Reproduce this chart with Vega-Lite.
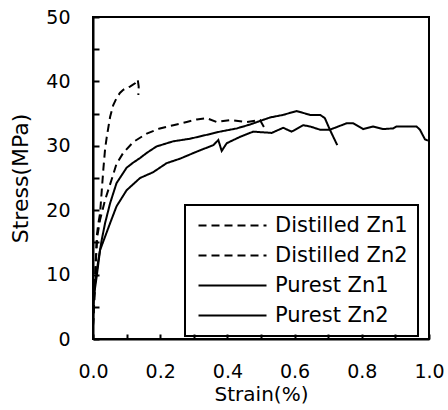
{
  "$schema": "https://vega.github.io/schema/vega-lite/v6.json",
  "width": 336,
  "height": 322,
  "autosize": {"type": "none"},
  "padding": {"left": 93, "top": 17, "right": 19, "bottom": 71},
  "background": "white",
  "config": {
    "view": {"stroke": "black", "strokeWidth": 2},
    "font": "DejaVu Sans",
    "legend": {"strokeWidth": 2}
  },
  "data": {
    "values": [
      {"series": "Distilled Zn1", "i": 0, "strain": 0, "stress": 2},
      {"series": "Distilled Zn1", "i": 1, "strain": 0.004, "stress": 6},
      {"series": "Distilled Zn1", "i": 2, "strain": 0.008, "stress": 11},
      {"series": "Distilled Zn1", "i": 3, "strain": 0.011, "stress": 15.9},
      {"series": "Distilled Zn1", "i": 4, "strain": 0.016, "stress": 18},
      {"series": "Distilled Zn1", "i": 5, "strain": 0.021, "stress": 19.5},
      {"series": "Distilled Zn1", "i": 6, "strain": 0.026, "stress": 23},
      {"series": "Distilled Zn1", "i": 7, "strain": 0.031, "stress": 26.5},
      {"series": "Distilled Zn1", "i": 8, "strain": 0.036, "stress": 29.5},
      {"series": "Distilled Zn1", "i": 9, "strain": 0.041, "stress": 31.4},
      {"series": "Distilled Zn1", "i": 10, "strain": 0.051, "stress": 34.5},
      {"series": "Distilled Zn1", "i": 11, "strain": 0.06, "stress": 36.3},
      {"series": "Distilled Zn1", "i": 12, "strain": 0.07, "stress": 37.4},
      {"series": "Distilled Zn1", "i": 13, "strain": 0.08, "stress": 38.2},
      {"series": "Distilled Zn1", "i": 14, "strain": 0.09, "stress": 38.7},
      {"series": "Distilled Zn1", "i": 15, "strain": 0.11, "stress": 39.2},
      {"series": "Distilled Zn1", "i": 16, "strain": 0.125, "stress": 39.7},
      {"series": "Distilled Zn1", "i": 17, "strain": 0.133, "stress": 40.3},
      {"series": "Distilled Zn1", "i": 18, "strain": 0.136, "stress": 39.2},
      {"series": "Distilled Zn1", "i": 19, "strain": 0.135, "stress": 37.9},

      {"series": "Distilled Zn2", "i": 0, "strain": 0, "stress": 2},
      {"series": "Distilled Zn2", "i": 1, "strain": 0.004, "stress": 7},
      {"series": "Distilled Zn2", "i": 2, "strain": 0.008, "stress": 12},
      {"series": "Distilled Zn2", "i": 3, "strain": 0.013, "stress": 16},
      {"series": "Distilled Zn2", "i": 4, "strain": 0.021, "stress": 18.5},
      {"series": "Distilled Zn2", "i": 5, "strain": 0.036, "stress": 21.6},
      {"series": "Distilled Zn2", "i": 6, "strain": 0.055, "stress": 24.7},
      {"series": "Distilled Zn2", "i": 7, "strain": 0.07, "stress": 27.2},
      {"series": "Distilled Zn2", "i": 8, "strain": 0.09, "stress": 28.9},
      {"series": "Distilled Zn2", "i": 9, "strain": 0.12, "stress": 30.6},
      {"series": "Distilled Zn2", "i": 10, "strain": 0.16, "stress": 31.9},
      {"series": "Distilled Zn2", "i": 11, "strain": 0.199, "stress": 32.7},
      {"series": "Distilled Zn2", "i": 12, "strain": 0.239, "stress": 33.2},
      {"series": "Distilled Zn2", "i": 13, "strain": 0.279, "stress": 33.7},
      {"series": "Distilled Zn2", "i": 14, "strain": 0.309, "stress": 34.1},
      {"series": "Distilled Zn2", "i": 15, "strain": 0.338, "stress": 34.3},
      {"series": "Distilled Zn2", "i": 16, "strain": 0.368, "stress": 33.7},
      {"series": "Distilled Zn2", "i": 17, "strain": 0.408, "stress": 34.0},
      {"series": "Distilled Zn2", "i": 18, "strain": 0.457, "stress": 33.7},
      {"series": "Distilled Zn2", "i": 19, "strain": 0.497, "stress": 34.0},
      {"series": "Distilled Zn2", "i": 20, "strain": 0.51, "stress": 32.8},

      {"series": "Purest Zn1", "i": 0, "strain": 0, "stress": 2},
      {"series": "Purest Zn1", "i": 1, "strain": 0.001, "stress": 5},
      {"series": "Purest Zn1", "i": 2, "strain": 0.006, "stress": 8.6},
      {"series": "Purest Zn1", "i": 3, "strain": 0.016, "stress": 12.3},
      {"series": "Purest Zn1", "i": 4, "strain": 0.026, "stress": 15.4},
      {"series": "Purest Zn1", "i": 5, "strain": 0.036, "stress": 18},
      {"series": "Purest Zn1", "i": 6, "strain": 0.051, "stress": 21.1},
      {"series": "Purest Zn1", "i": 7, "strain": 0.07, "stress": 24.2},
      {"series": "Purest Zn1", "i": 8, "strain": 0.1, "stress": 26.6},
      {"series": "Purest Zn1", "i": 9, "strain": 0.12, "stress": 27.4},
      {"series": "Purest Zn1", "i": 10, "strain": 0.14, "stress": 28.1},
      {"series": "Purest Zn1", "i": 11, "strain": 0.16, "stress": 28.9},
      {"series": "Purest Zn1", "i": 12, "strain": 0.189, "stress": 29.9},
      {"series": "Purest Zn1", "i": 13, "strain": 0.239, "stress": 30.7},
      {"series": "Purest Zn1", "i": 14, "strain": 0.289, "stress": 31.1},
      {"series": "Purest Zn1", "i": 15, "strain": 0.338, "stress": 31.7},
      {"series": "Purest Zn1", "i": 16, "strain": 0.378, "stress": 32.2},
      {"series": "Purest Zn1", "i": 17, "strain": 0.428, "stress": 32.7},
      {"series": "Purest Zn1", "i": 18, "strain": 0.467, "stress": 33.3},
      {"series": "Purest Zn1", "i": 19, "strain": 0.527, "stress": 34.4},
      {"series": "Purest Zn1", "i": 20, "strain": 0.566, "stress": 34.8},
      {"series": "Purest Zn1", "i": 21, "strain": 0.606, "stress": 35.4},
      {"series": "Purest Zn1", "i": 22, "strain": 0.626, "stress": 35.1},
      {"series": "Purest Zn1", "i": 23, "strain": 0.646, "stress": 34.8},
      {"series": "Purest Zn1", "i": 24, "strain": 0.676, "stress": 34.8},
      {"series": "Purest Zn1", "i": 25, "strain": 0.69, "stress": 34.3},
      {"series": "Purest Zn1", "i": 26, "strain": 0.705, "stress": 32.5},
      {"series": "Purest Zn1", "i": 27, "strain": 0.727, "stress": 30.1},

      {"series": "Purest Zn2", "i": 0, "strain": 0, "stress": 2},
      {"series": "Purest Zn2", "i": 1, "strain": 0.001, "stress": 6.1},
      {"series": "Purest Zn2", "i": 2, "strain": 0.011, "stress": 9.7},
      {"series": "Purest Zn2", "i": 3, "strain": 0.021, "stress": 13.8},
      {"series": "Purest Zn2", "i": 4, "strain": 0.036, "stress": 15.9},
      {"series": "Purest Zn2", "i": 5, "strain": 0.051, "stress": 18},
      {"series": "Purest Zn2", "i": 6, "strain": 0.07, "stress": 20.6},
      {"series": "Purest Zn2", "i": 7, "strain": 0.1, "stress": 23.1},
      {"series": "Purest Zn2", "i": 8, "strain": 0.14, "stress": 25.0},
      {"series": "Purest Zn2", "i": 9, "strain": 0.179, "stress": 25.9},
      {"series": "Purest Zn2", "i": 10, "strain": 0.199, "stress": 26.6},
      {"series": "Purest Zn2", "i": 11, "strain": 0.219, "stress": 27.3},
      {"series": "Purest Zn2", "i": 12, "strain": 0.259, "stress": 28.0},
      {"series": "Purest Zn2", "i": 13, "strain": 0.309, "stress": 29.1},
      {"series": "Purest Zn2", "i": 14, "strain": 0.358, "stress": 30.1},
      {"series": "Purest Zn2", "i": 15, "strain": 0.373, "stress": 30.9},
      {"series": "Purest Zn2", "i": 16, "strain": 0.383, "stress": 29.2},
      {"series": "Purest Zn2", "i": 17, "strain": 0.398, "stress": 30.4},
      {"series": "Purest Zn2", "i": 18, "strain": 0.438, "stress": 31.4},
      {"series": "Purest Zn2", "i": 19, "strain": 0.477, "stress": 32.2},
      {"series": "Purest Zn2", "i": 20, "strain": 0.532, "stress": 32.0},
      {"series": "Purest Zn2", "i": 21, "strain": 0.566, "stress": 32.8},
      {"series": "Purest Zn2", "i": 22, "strain": 0.591, "stress": 32.2},
      {"series": "Purest Zn2", "i": 23, "strain": 0.626, "stress": 33.2},
      {"series": "Purest Zn2", "i": 24, "strain": 0.646, "stress": 33.0},
      {"series": "Purest Zn2", "i": 25, "strain": 0.676, "stress": 32.5},
      {"series": "Purest Zn2", "i": 26, "strain": 0.705, "stress": 32.5},
      {"series": "Purest Zn2", "i": 27, "strain": 0.755, "stress": 33.5},
      {"series": "Purest Zn2", "i": 28, "strain": 0.774, "stress": 33.5},
      {"series": "Purest Zn2", "i": 29, "strain": 0.804, "stress": 32.6},
      {"series": "Purest Zn2", "i": 30, "strain": 0.834, "stress": 33.0},
      {"series": "Purest Zn2", "i": 31, "strain": 0.863, "stress": 32.6},
      {"series": "Purest Zn2", "i": 32, "strain": 0.893, "stress": 32.7},
      {"series": "Purest Zn2", "i": 33, "strain": 0.903, "stress": 33.0},
      {"series": "Purest Zn2", "i": 34, "strain": 0.963, "stress": 33.0},
      {"series": "Purest Zn2", "i": 35, "strain": 0.973, "stress": 32.5},
      {"series": "Purest Zn2", "i": 36, "strain": 0.988, "stress": 31.0},
      {"series": "Purest Zn2", "i": 37, "strain": 0.997, "stress": 30.8}
    ]
  },
  "mark": {"type": "line", "strokeWidth": 2, "color": "black", "clip": true},
  "encoding": {
    "x": {
      "field": "strain",
      "type": "quantitative",
      "scale": {"domain": [0, 1], "nice": false, "zero": false},
      "axis": {
        "title": "Strain(%)",
        "values": [0, 0.1, 0.2, 0.3, 0.4, 0.5, 0.6, 0.7, 0.8, 0.9, 1.0],
        "labelExpr": "round(datum.value*10) % 2 == 0 ? format(datum.value, '.1f') : ''",
        "grid": false,
        "domainColor": "black",
        "domainWidth": 2,
        "tickColor": "black",
        "tickWidth": 2,
        "tickSize": -5,
        "labelFlush": false,
        "labelOverlap": false,
        "labelFont": "DejaVu Sans",
        "labelFontSize": 19,
        "labelColor": "black",
        "labelPadding": 28,
        "titleFont": "DejaVu Sans",
        "titleFontSize": 20,
        "titleFontWeight": "normal",
        "titleColor": "black",
        "titlePadding": 3
      }
    },
    "y": {
      "field": "stress",
      "type": "quantitative",
      "scale": {"domain": [0, 50], "nice": false},
      "axis": {
        "title": "Stress(MPa)",
        "values": [0, 5, 10, 15, 20, 25, 30, 35, 40, 45, 50],
        "labelExpr": "datum.value % 10 == 0 ? format(datum.value, 'd') : ''",
        "grid": false,
        "domainColor": "black",
        "domainWidth": 2,
        "tickColor": "black",
        "tickWidth": 2,
        "tickSize": -6,
        "labelFlush": false,
        "labelOverlap": false,
        "labelFont": "DejaVu Sans",
        "labelFontSize": 19,
        "labelColor": "black",
        "labelPadding": 29,
        "titleFont": "DejaVu Sans",
        "titleFontSize": 22,
        "titleFontWeight": "normal",
        "titleColor": "black",
        "titlePadding": 13
      }
    },
    "strokeDash": {
      "field": "series",
      "type": "nominal",
      "scale": {
        "domain": ["Distilled Zn1", "Distilled Zn2", "Purest Zn1", "Purest Zn2"],
        "range": [[8, 5], [8, 5], [1, 0], [1, 0]]
      },
      "legend": {
        "orient": "none",
        "legendX": 92,
        "legendY": 188,
        "title": null,
        "strokeColor": "black",
        "padding": 10,
        "symbolType": "M-7.5,0H1",
        "symbolSize": 256,
        "symbolOffset": 53,
        "symbolStrokeWidth": 2,
        "symbolStrokeColor": "black",
        "labelFont": "DejaVu Sans",
        "labelFontSize": 21,
        "labelColor": "black",
        "labelOffset": 6,
        "rowPadding": 8
      }
    },
    "order": {"field": "i", "type": "quantitative"}
  }
}
